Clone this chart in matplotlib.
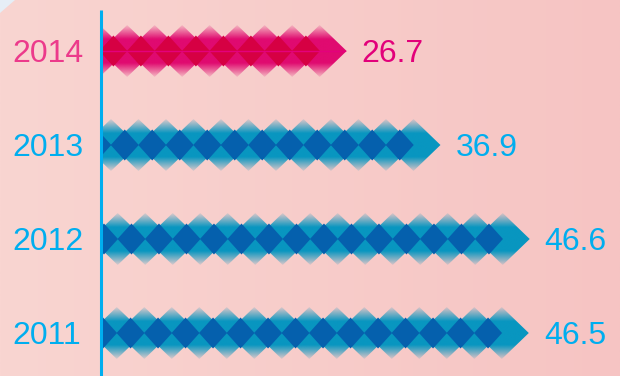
import numpy as np
import matplotlib
matplotlib.use("Agg")
import matplotlib.pyplot as plt
from matplotlib.patches import Polygon, Rectangle
from matplotlib.colors import to_rgb

years = ["2014", "2013", "2012", "2011"]
values = [26.7, 36.9, 46.6, 46.5]
year_colors = ["#ec3a8b", "#00aeef", "#00aeef", "#00aeef"]
value_colors = ["#e2007a", "#00aeef", "#00aeef", "#00aeef"]
base_colors = ["#e00a70", "#0896c0", "#0896c0", "#0896c0"]
dark_colors = ["#d60043", "#0560ad", "#0560ad", "#0560ad"]

W, H = 620, 376
fig = plt.figure(figsize=(W / 100, H / 100), dpi=100)
ax = fig.add_axes([0, 0, 1, 1])

# pixel geometry of the value scale and the category rows
x0_px, px_per_unit = 101.0, 9.2
row0_px, row_step_px = 51.0, 94.0
ax.set_xlim(-x0_px / px_per_unit, (W - x0_px) / px_per_unit)
ax.set_ylim((H - row0_px) / row_step_px, -row0_px / row_step_px)
ax.axis("off")

# soft pink background, a little deeper to the right
grad = np.linspace(0, 1, 256)[None, :]
c_left, c_right = np.array(to_rgb("#f9d5d1")), np.array(to_rgb("#f6c4c3"))
bg = c_left[None, None, :] * (1 - grad[..., None]) + c_right[None, None, :] * grad[..., None]
ax.imshow(bg, extent=[0, 1, 0, 1], transform=ax.transAxes, aspect="auto", zorder=0)
fig.patches.append(Polygon([[0, 1], [15 / W, 1], [0, 1 - 13 / H]], closed=True,
                           transform=fig.transFigure, facecolor="#e6eef6",
                           edgecolor="none", zorder=1))

# diamond sizes (converted from pixels to data units)
bw = 27.0 / px_per_unit      # half-width of the big diamonds
bh = 26.0 / row_step_px      # half-height of the big diamonds
step = 27.5 / px_per_unit    # spacing between diamonds
dw = 14.0 / px_per_unit      # half-width of the dark diamonds
dh = 15.5 / row_step_px      # half-height of the dark diamonds
solid = 12.0 / row_step_px   # fully opaque core band half-height

for i, (val, base, dark) in enumerate(zip(values, base_colors, dark_colors)):
    yc = i
    centers = []
    c = val - bw
    while c + bw > 0:
        centers.append(c)
        c -= step
    # zig-zag outline formed by the row of big diamonds
    valley = bh - (step / 2) * (bh / bw)
    top = [(val, yc)]
    for cx in centers:
        top.append((cx, yc - bh))
        top.append((cx - step / 2, yc - valley))
    top[-1] = (centers[-1] - bw, yc)
    bottom = [(x, 2 * yc - y) for (x, y) in reversed(top[1:-1])]
    outline = Polygon(top + bottom, closed=True, transform=ax.transData,
                      facecolor="none", edgecolor="none")
    ax.add_patch(outline)

    # vertical alpha gradient: solid core, fading towards the points
    ny = 200
    ys = np.linspace(-bh, bh, ny)
    alpha = np.clip(1 - (np.abs(ys) - solid) / (bh - solid), 0, 1) * 0.88 + 0.12
    alpha[np.abs(ys) <= solid] = 1.0
    rgb = np.array(to_rgb(base))
    img = np.zeros((ny, 2, 4))
    img[..., :3] = rgb
    img[..., 3] = alpha[:, None]
    im = ax.imshow(img, extent=[0, val, yc + bh, yc - bh], aspect="auto",
                   interpolation="bilinear", zorder=2)
    im.set_clip_path(outline)

    clip_rect = Rectangle((0, yc - bh), val, 2 * bh, transform=ax.transData,
                          facecolor="none", edgecolor="none")
    ax.add_patch(clip_rect)
    for cx in centers:
        dx = cx - step / 2
        d = Polygon([(dx - dw, yc), (dx, yc - dh), (dx + dw, yc), (dx, yc + dh)],
                    closed=True, facecolor=dark, edgecolor="none", zorder=3)
        ax.add_patch(d)
        d.set_clip_path(clip_rect)
    if i == 0:
        ln, = ax.plot([0, val], [yc, yc], color="#e4007c", lw=1.0, zorder=4,
                      solid_capstyle="butt")
        ln.set_clip_path(outline)

    ax.text(-(x0_px - 12) / px_per_unit, yc, years[i], color=year_colors[i],
            fontsize=23, family="Liberation Sans", ha="left", va="center_baseline", zorder=5)
    ax.text(val + 15 / px_per_unit, yc, f"{val:.1f}", color=value_colors[i],
            fontsize=23, family="Liberation Sans", ha="left", va="center_baseline", zorder=5)

# vertical axis line
ax.plot([0, 0], [-(row0_px - 10) / row_step_px, (H - row0_px) / row_step_px],
        color="#00aeef", lw=2.2, zorder=6, solid_capstyle="butt")

fig.savefig("out.png", dpi=100)
